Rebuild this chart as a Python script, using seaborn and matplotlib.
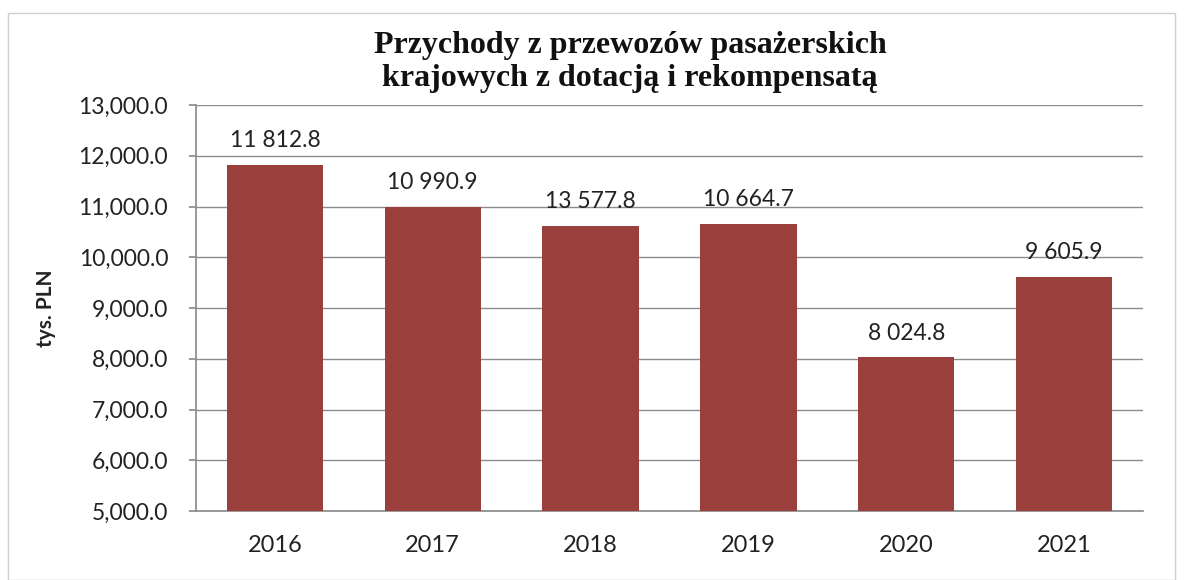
import matplotlib
matplotlib.use("Agg")
import matplotlib.pyplot as plt
import seaborn as sns
import pandas as pd
from matplotlib.ticker import FuncFormatter
from matplotlib.patches import Rectangle

years = ["2016", "2017", "2018", "2019", "2020", "2021"]
bar_heights = [11812.8, 10990.9, 10610.0, 10664.7, 8024.8, 9605.9]
bar_labels = ["11 812.8", "10 990.9", "13 577.8", "10 664.7", "8 024.8", "9 605.9"]

title = "Przychody z przewozów pasażerskich\nkrajowych z dotacją i rekompensatą"
ylabel = "tys. PLN"


def main():
    df = pd.DataFrame({"rok": years, "wartosc": bar_heights})

    sns.set_theme(style="white")
    plt.rcParams["font.family"] = ["Lato", "DejaVu Sans"]

    fig = plt.figure(figsize=(11.87, 5.80), dpi=100)
    ax = fig.add_axes([196 / 1187, 1 - 511 / 580, (1143 - 196) / 1187, (511 - 105) / 580])

    sns.barplot(data=df, x="rok", y="wartosc", color="#993F3C", width=0.61,
                saturation=1, ax=ax, zorder=3)
    for p in ax.patches:
        p.set_edgecolor("none")

    ax.set_ylim(5000, 13000)
    ax.set_yticks(range(5000, 13001, 1000))
    ax.yaxis.set_major_formatter(FuncFormatter(lambda v, _: f"{v:,.1f}"))
    ax.grid(axis="y", color="#8c8c8c", linewidth=1, zorder=0)
    ax.set_axisbelow(True)

    for s in ["top", "right"]:
        ax.spines[s].set_visible(False)
    ax.spines["left"].set_color("#8c8c8c")
    ax.spines["bottom"].set_color("#8c8c8c")
    ax.tick_params(axis="y", length=5, color="#8c8c8c", labelsize=16.5, pad=15,
                   left=True, labelcolor="#222222")
    ax.tick_params(axis="x", length=0, labelsize=17, pad=17, labelcolor="#222222")

    ax.set_xlabel("")
    ax.set_ylabel(ylabel, fontsize=15, fontweight="bold", labelpad=16, color="#222222")

    for p, lab in zip(ax.patches, bar_labels):
        ax.annotate(lab, (p.get_x() + p.get_width() / 2, p.get_height()),
                    xytext=(0, 10), textcoords="offset points",
                    ha="center", va="bottom", fontsize=16.5, color="#222222")

    fig.text(630 / 1187, 1 - 62 / 580, title, ha="center", va="center",
             fontsize=23, fontweight="bold", family="Liberation Serif",
             color="#111111", linespacing=1.2)

    fig.patches.append(Rectangle((8 / 1187, 0.0), 1167 / 1187, 1 - 13 / 580,
                                 transform=fig.transFigure, fill=False,
                                 edgecolor="#d0d0d0", linewidth=1))

    fig.savefig("out.png", dpi=100)


if __name__ == "__main__":
    main()
